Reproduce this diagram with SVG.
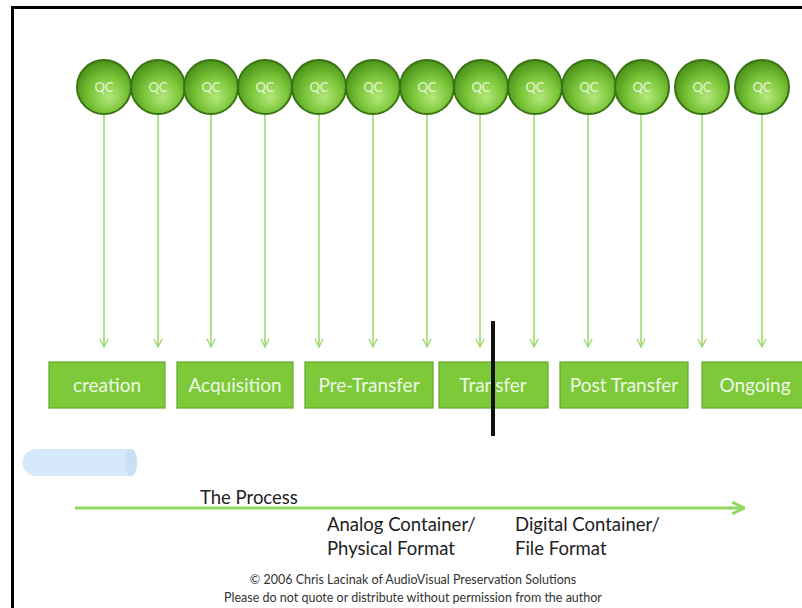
<svg xmlns="http://www.w3.org/2000/svg" width="802" height="608" viewBox="0 0 802 608">
<defs>
<radialGradient id="ball" cx="0.55" cy="0.6" r="0.6" fx="0.6" fy="0.7">
<stop offset="0" stop-color="#b4e87c"/>
<stop offset="0.55" stop-color="#7cc63a"/>
<stop offset="1" stop-color="#4a9219"/>
</radialGradient>
<marker id="ah" viewBox="0 0 12 12" refX="11" refY="6" markerWidth="10" markerHeight="10" markerUnits="userSpaceOnUse" orient="auto">
<path d="M1,1 L11,6 L1,11" fill="none" stroke="#9ad86a" stroke-width="1.5"/>
</marker>
<marker id="ah2" viewBox="0 0 12 12" refX="11" refY="6" markerWidth="14" markerHeight="14" markerUnits="userSpaceOnUse" orient="auto">
<path d="M1,1 L11,6 L1,11" fill="none" stroke="#8fd860" stroke-width="2.5"/>
</marker>
</defs>
<style>
.ball{fill:url(#ball);stroke:#3a7414;stroke-width:2}
.qc{font-family:Lato,"Liberation Sans",sans-serif;font-size:13px;fill:#e6f6d4;text-anchor:middle}
.box{fill:#7dc93a;stroke:#64a82c;stroke-width:1.2}
.bt{font-family:Lato,"Liberation Sans",sans-serif;font-size:19px;fill:#eef8e4;text-anchor:middle}
.conn line{stroke:#9ad86a;stroke-width:1.5;marker-end:url(#ah)}
.lbl{font-family:Lato,"Liberation Sans",sans-serif;font-size:18.5px;fill:#222}
.copy{font-family:Lato,"Liberation Sans",sans-serif;font-size:12.5px;fill:#333;text-anchor:middle}
</style>
<rect width="802" height="608" fill="#fff"/>
<path d="M12.5,608 V7.5 H802" fill="none" stroke="#000" stroke-width="3"/>

<g id="qc-nodes">
<g id="qc1"><circle class="ball" cx="104" cy="87" r="27"/><text class="qc" x="104" y="92">QC</text></g>
<g id="qc2"><circle class="ball" cx="158" cy="87" r="27"/><text class="qc" x="158" y="92">QC</text></g>
<g id="qc3"><circle class="ball" cx="211" cy="87" r="27"/><text class="qc" x="211" y="92">QC</text></g>
<g id="qc4"><circle class="ball" cx="265" cy="87" r="27"/><text class="qc" x="265" y="92">QC</text></g>
<g id="qc5"><circle class="ball" cx="319" cy="87" r="27"/><text class="qc" x="319" y="92">QC</text></g>
<g id="qc6"><circle class="ball" cx="373" cy="87" r="27"/><text class="qc" x="373" y="92">QC</text></g>
<g id="qc7"><circle class="ball" cx="427" cy="87" r="27"/><text class="qc" x="427" y="92">QC</text></g>
<g id="qc8"><circle class="ball" cx="481" cy="87" r="27"/><text class="qc" x="481" y="92">QC</text></g>
<g id="qc9"><circle class="ball" cx="535" cy="87" r="27"/><text class="qc" x="535" y="92">QC</text></g>
<g id="qc10"><circle class="ball" cx="589" cy="87" r="27"/><text class="qc" x="589" y="92">QC</text></g>
<g id="qc11"><circle class="ball" cx="642" cy="87" r="27"/><text class="qc" x="642" y="92">QC</text></g>
<g id="qc12"><circle class="ball" cx="702" cy="87" r="27"/><text class="qc" x="702" y="92">QC</text></g>
<g id="qc13"><circle class="ball" cx="762" cy="87" r="27"/><text class="qc" x="762" y="92">QC</text></g>
</g>

<g id="connectors" class="conn">
<line x1="104" y1="115" x2="104" y2="347"/>
<line x1="158" y1="115" x2="158" y2="347"/>
<line x1="211" y1="115" x2="211" y2="347"/>
<line x1="265" y1="115" x2="265" y2="347"/>
<line x1="319" y1="115" x2="319" y2="347"/>
<line x1="373" y1="115" x2="373" y2="347"/>
<line x1="427" y1="115" x2="427" y2="347"/>
<line x1="480" y1="115" x2="480" y2="347"/>
<line x1="534" y1="115" x2="534" y2="347"/>
<line x1="588" y1="115" x2="588" y2="347"/>
<line x1="641" y1="115" x2="641" y2="347"/>
<line x1="702" y1="115" x2="702" y2="347"/>
<line x1="762" y1="115" x2="762" y2="347"/>
</g>

<g id="stages">
<g id="creation"><rect class="box" x="49" y="362" width="116" height="46"/><text class="bt" x="107" y="392">creation</text></g>
<g id="acquisition"><rect class="box" x="177" y="362" width="116" height="46"/><text class="bt" x="235" y="392">Acquisition</text></g>
<g id="pre-transfer"><rect class="box" x="305" y="362" width="128" height="46"/><text class="bt" x="369" y="392">Pre-Transfer</text></g>
<g id="transfer"><rect class="box" x="439" y="362" width="109" height="46"/><text class="bt" x="493" y="392">Transfer</text></g>
<g id="post-transfer"><rect class="box" x="560" y="362" width="128" height="46"/><text class="bt" x="624" y="392">Post Transfer</text></g>
<g id="ongoing"><rect class="box" x="702" y="362" width="106" height="46"/><text class="bt" x="755" y="392">Ongoing</text></g>
</g>

<rect id="divider" x="491" y="321" width="4" height="115" fill="#111"/>

<g id="cylinder">
<path d="M36,449 H131 A6,13.5 0 0 1 131,476 H36 A13.5,13.5 0 0 1 36,449 Z" fill="#d6e9fb"/>
<ellipse cx="131" cy="462.5" rx="6" ry="13.5" fill="#c6e0f7"/>
</g>

<g id="process">
<line x1="75" y1="508" x2="744" y2="508" stroke="#8fd860" stroke-width="3" marker-end="url(#ah2)"/>
<text class="lbl" x="200" y="504">The Process</text>
<text class="lbl" x="327" y="531">Analog Container/</text>
<text class="lbl" x="327" y="555">Physical Format</text>
<text class="lbl" x="515" y="531">Digital Container/</text>
<text class="lbl" x="515" y="555">File Format</text>
</g>

<text class="copy" x="413" y="584">© 2006 Chris Lacinak of AudioVisual Preservation Solutions</text>
<text class="copy" x="413" y="602">Please do not quote or distribute without permission from the author</text>
</svg>
